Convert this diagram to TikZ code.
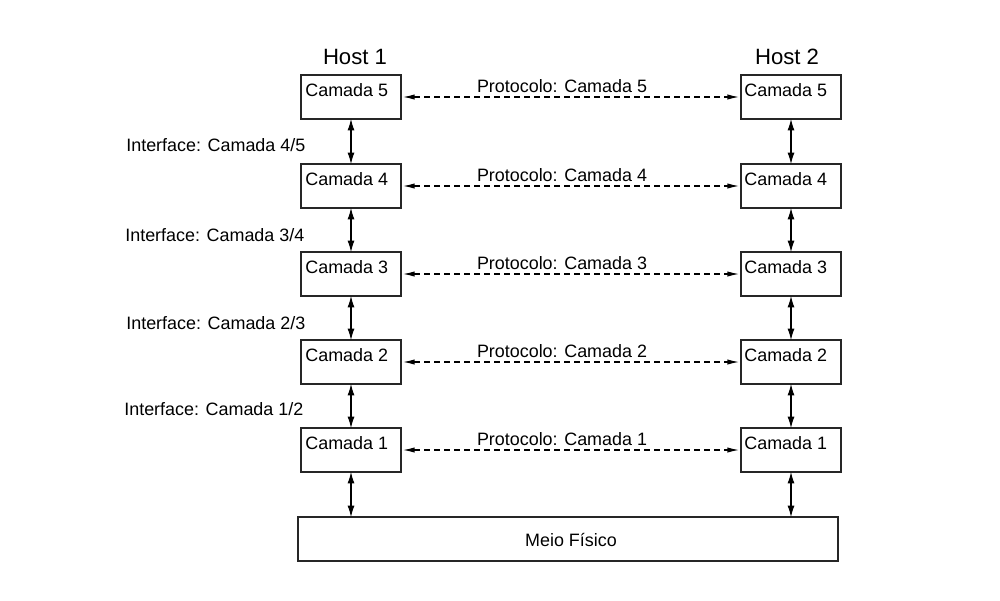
\documentclass[tikz,border=0pt]{standalone}
\usepackage{fontspec}
\setmainfont{Liberation Sans}
\usetikzlibrary{arrows.meta,calc}
\begin{document}
\begin{tikzpicture}[x=0.02cm,y=-0.02cm,
  box/.style={draw=black!85,line width=0.7pt,minimum width=2cm,minimum height=0.88cm,inner sep=0pt,outer sep=0pt},
  boxtxt/.style={anchor=base west,inner sep=0pt,font=\fontsize{10.2}{12}\selectfont},
  lbl/.style={inner sep=0pt,font=\fontsize{10.2}{12}\selectfont},
  hostlbl/.style={anchor=base,inner sep=0pt,font=\fontsize{12.6}{15}\selectfont},
  varrow/.style={line width=0.6pt,{Latex[length=6.5pt,width=4pt]}-{Latex[length=6.5pt,width=4pt]}},
  harrow/.style={line width=0.6pt,dash pattern=on 3.4pt off 2.3pt,{Latex[length=6.5pt,width=3pt]}-{Latex[length=6.5pt,width=3pt]},shorten <=1.2pt,shorten >=1.2pt}]
\useasboundingbox (0,0) rectangle (1000,600);
\node[hostlbl] (h1) at (355,64) {Host 1};
\node[hostlbl] (h2) at (787,64) {Host 2};
\foreach \n/\y in {5/97,4/186,3/274,2/362,1/450}{
  \node[box] (a\n) at (351,\y) {};
  \node[box] (b\n) at (791,\y) {};
  \node[boxtxt] (ta\n) at ($(a\n.north west)+(4,21)$) {Camada \n};
  \node[boxtxt] (tb\n) at ($(b\n.north west)+(3,21)$) {Camada \n};
  \draw[harrow] (a\n.east) -- (b\n.east -| b\n.west);
  \node[lbl,anchor=base] (p\n) at (562,\y-5) {Protocolo: Camada \n};
}
\node[box,minimum width=10.8cm] (meio) at (568,539) {};
\node[lbl] (tm) at (571,540) {Meio Físico};
\foreach \u/\l in {5/4,4/3,3/2,2/1}{
  \draw[varrow] (a\u.south) -- (a\l.north);
  \draw[varrow] (b\u.south) -- (b\l.north);
}
\draw[varrow] (a1.south) -- (a1.south |- meio.north);
\draw[varrow] (b1.south) -- (b1.south |- meio.north);
\node[lbl,anchor=base west] (i45) at (126,151) {Interface: Camada 4/5};
\node[lbl,anchor=base west] (i34) at (125,241) {Interface: Camada 3/4};
\node[lbl,anchor=base west] (i23) at (126,329) {Interface: Camada 2/3};
\node[lbl,anchor=base west] (i12) at (124,415) {Interface: Camada 1/2};
\end{tikzpicture}
\end{document}
